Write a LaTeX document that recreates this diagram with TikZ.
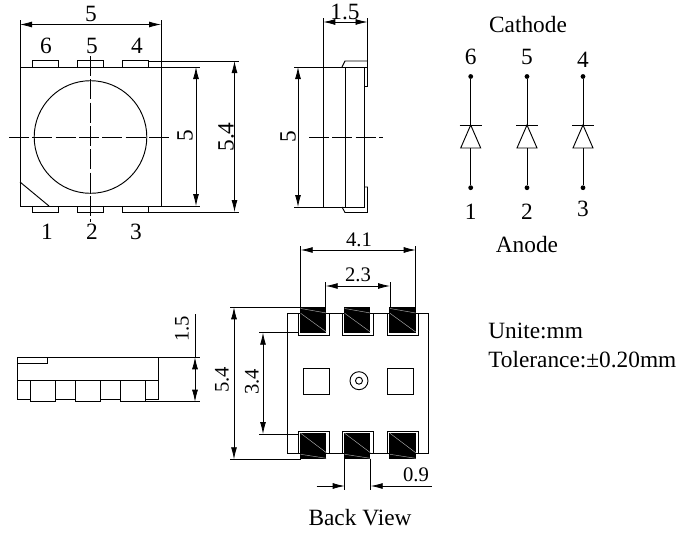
\documentclass[tikz,border=0pt]{standalone}
\usepackage{fontspec}
\setmainfont{Liberation Serif}
\usetikzlibrary{arrows.meta}
\begin{document}
\begin{tikzpicture}[x=0.75pt,y=-0.75pt]
		\tikzset{part/.style={line width=0.7pt}}
		\tikzset{extline/.style={line width=0.6pt}}
		\tikzset{centerline/.style={line width=0.6pt, dash pattern=on 15pt off 2.5pt}}
		\tikzset{dimline/.style={line width=0.6pt, <->, > = {Latex[length=9pt,width=4.5pt]}}}
		\tikzset{dimstop/.style={line width=0.6pt, ->, > = {Latex[length=9pt,width=4.5pt]}}}
		\tikzset{biglabel/.style={inner sep=0pt, font=\fontsize{17.5}{19}\selectfont}}
		\tikzset{dimlabel/.style={inner sep=0pt, font=\fontsize{15.5}{17}\selectfont}}
		\tikzset{pindot/.style={shape=circle, fill, inner sep=0pt, minimum size=3.6pt}}
		\tikzset{blackpad/.style={fill=black, draw=none}}
		\tikzset{padmark/.style={draw=gray!70, line width=0.35pt}}
		\useasboundingbox (0,0) rectangle (686,533);
		%top view
		\draw[part] (20,67) rectangle (161,206);
		\draw[part] (90.5,137) circle (56.3);
		\draw[part] (20,182) -- (49,206);
		\foreach \x in {32.5,77.5,122.5} {
			\draw[part] (\x,67) -- (\x,60.5) -- (\x+25.5,60.5) -- (\x+25.5,67);
			\draw[part] (\x,206) -- (\x,212) -- (\x+25.5,212) -- (\x+25.5,206);
		}
		\draw[centerline] (9,137) -- (172,137);
		\draw[centerline] (90.5,56) -- (90.5,222);
		\draw[extline] (20,20) -- (20,67);
		\draw[extline] (161,20) -- (161,67);
		\draw[dimline] (20,24.5) -- (161,24.5);
		\draw[extline] (161,67) -- (200,67);
		\draw[extline] (161,206) -- (200,206);
		\draw[dimline] (196,67) -- (196,206);
		\draw[extline] (148,61) -- (239,61);
		\draw[extline] (148,212) -- (239,212);
		\draw[dimline] (234.5,61) -- (234.5,212);
		\node[biglabel] (topwidth) at (91,14) {5};
		\node[biglabel, rotate=90] (topbody) at (185,136) {5};
		\node[biglabel, rotate=90] (toptotal) at (226,137) {5.4};
		\foreach \name/\x/\y in {6/46/46, 5/92/46, 4/137/46, 1/47/232, 2/92/232, 3/136/232} {
			\node[biglabel] (toppin\name) at (\x,\y) {\name};
		}
		%side view
		\draw[part] (323.3,18) -- (323.3,207);
		\draw[part] (345.7,67) -- (345.7,207);
		\draw[part] (364.7,67) -- (364.7,207);
		\draw[extline] (294,67) -- (368,67);
		\draw[extline] (294,207) -- (365,207);
		\draw[part] (342,67) -- (345,61) -- (367.5,61);
		\draw[part] (367.5,18) -- (367.5,86) -- (364.7,86);
		\draw[part] (364.7,187) -- (367.5,187) -- (367.5,212.5) -- (345,212.5) -- (342,207);
		\draw[dimline] (323.3,22) -- (367.5,22);
		\draw[dimline] (298,67) -- (298,207);
		\draw[centerline] (309,137) -- (383,137);
		\node[biglabel] (sidedepth) at (345,12) {1.5};
		\node[biglabel, rotate=90] (sidebody) at (288,137) {5};
		%diodes
		\foreach \name/\x/\up/\low/\upy/\lowy in {a/470.7/6/1/57/212, b/527/5/2/57/212, c/583/4/3/60/209} {
			\node[pindot] (top\name) at (\x,76.5) {};
			\node[pindot] (bot\name) at (\x,187.7) {};
			\coordinate (apex\name) at (\x,125);
			\coordinate (base\name) at (\x,148);
			\draw[part] (top\name) -- (apex\name);
			\draw[part] (base\name) -- (bot\name);
			\draw[part] (\x-11,125) -- (\x+11,125);
			\draw[part] (apex\name) -- (\x-10,148) -- (\x+10,148) -- cycle;
			\node[biglabel] (cath\name) at (\x,\upy) {\up};
			\node[biglabel] (anod\name) at (\x,\lowy) {\low};
		}
		\node[biglabel] (cathode) at (528,25) {Cathode};
		\node[biglabel] (anode) at (527,245) {Anode};
		%side pins view
		\draw[part] (17.3,357.3) rectangle (158.3,399);
		\draw[part] (17.3,380) -- (158.3,380);
		\draw[part] (17.3,363) -- (47.3,363) -- (47.3,357.3);
		\foreach \x in {30,75.3,120.3} {
			\draw[part, fill=white] (\x,380) rectangle (\x+25.5,401.7);
		}
		\draw[extline] (158.3,357.3) -- (200,357.3);
		\draw[extline] (145.7,401.7) -- (200,401.7);
		\draw[extline] (195,314) -- (195,357.3);
		\draw[dimline] (195,357.3) -- (195,401.7);
		\node[dimlabel, rotate=90] (pinheight) at (182,329) {1.5};
		%back view
		\draw[part] (287.7,313.3) rectangle (428.3,453.3);
		\foreach \x in {300.7,344.7,390} {
			\draw[part, fill=white] (\x-2.7,313.3) rectangle (\x+28.3,335);
			\fill[blackpad] (\x-0.7,307.3) rectangle (\x+25.7,333);
			\draw[padmark] (\x,313.3) -- (\x+25.7,332);
			\draw[padmark] (\x,308.5) -- (\x+25.7,313);
			\draw[part, fill=white] (\x-2.7,431) rectangle (\x+28.3,453.3);
			\fill[blackpad] (\x-0.7,432.5) rectangle (\x+25.7,459.3);
			\draw[padmark] (\x,433.3) -- (\x+25.7,452.7);
			\draw[padmark] (\x,454.3) -- (\x+25.7,458.3);
		}
		\draw[part] (303.3,368.3) rectangle (329.3,394.3);
		\draw[part] (387.7,368.3) rectangle (413.7,394.3);
		\draw[part] (359,380.7) circle (9);
		\draw[part] (359,380.7) circle (3.5);
		\draw[extline] (300.7,246) -- (300.7,307.3);
		\draw[extline] (415.7,246) -- (415.7,307.3);
		\draw[dimline] (300.7,250) -- (415.7,250);
		\draw[extline] (325.7,282) -- (325.7,307.3);
		\draw[extline] (390,282) -- (390,307.3);
		\draw[dimline] (325.7,286) -- (390,286);
		\draw[extline] (230,307.3) -- (300.7,307.3);
		\draw[extline] (230,459.3) -- (300.7,459.3);
		\draw[dimline] (234,307.3) -- (234,459.3);
		\draw[extline] (259,332.7) -- (298,332.7);
		\draw[extline] (259,434) -- (298,434);
		\draw[dimline] (263,332.7) -- (263,434);
		\draw[extline] (344.7,459.3) -- (344.7,490);
		\draw[extline] (370.7,459.3) -- (370.7,490);
		\coordinate (narrowleft) at (316.7,486);
		\coordinate (narrowright) at (431.7,486);
		\draw[dimstop] (narrowleft) -- (344.7,486);
		\draw[dimstop] (narrowright) -- (370.7,486);
		\node[dimlabel] (outerpads) at (359,240) {4.1};
		\node[dimlabel] (innerpads) at (358,275) {2.3};
		\node[dimlabel, rotate=90] (backtotal) at (222,380) {5.4};
		\node[dimlabel, rotate=90] (padspan) at (252,382) {3.4};
		\node[dimlabel] (padwidth) at (416,475) {0.9};
		\node[biglabel] (backview) at (360,518) {Back View};
		%notes
		\node[biglabel, anchor=base west] (unit) at (488,338) {Unite:mm};
		\node[biglabel, anchor=base west] (tolerance) at (488,367) {Tolerance:±0.20mm};
\end{tikzpicture}
\end{document}
